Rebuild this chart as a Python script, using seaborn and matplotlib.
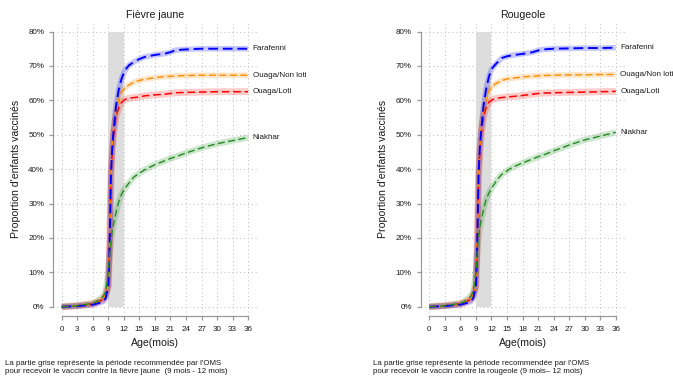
import matplotlib
matplotlib.use("Agg")
import matplotlib.pyplot as plt
import numpy as np
import pandas as pd
import seaborn as sns

# Age in months at which the cumulative coverage is tabulated
ages = [0, 3, 6, 7, 8, 8.5, 9, 9.25, 9.5, 9.75, 10, 10.5, 11, 11.5, 12, 12.5,
        13, 14, 15, 16, 18, 20, 21, 22, 24, 27, 30, 33, 36]

sites = ["Farafenni", "Ouaga/Non loti", "Ouaga/Loti", "Niakhar"]

# Cumulative coverage (%) - yellow fever
fj_farafenni = [0, 0.2, 0.6, 1.0, 1.5, 2.5, 6, 18, 38, 46, 51, 58.5, 63, 66, 68, 69.3,
                70.2, 71.2, 72.0, 72.6, 73.2, 73.6, 74.0, 74.6, 74.8, 75.0, 75.0, 75.0, 75.0]
fj_nonloti = [0, 0.3, 0.8, 1.4, 2.2, 3.5, 6, 18, 38, 46, 52, 57, 60.2, 62.3, 63.3, 64,
              64.5, 65.3, 65.8, 66.1, 66.6, 66.9, 67.0, 67.1, 67.2, 67.3, 67.3, 67.3, 67.3]
fj_loti = [0, 0.3, 0.8, 1.4, 2.2, 3.5, 6, 18, 38, 45, 50, 55.5, 57.8, 59.3, 60, 60.4,
           60.6, 60.8, 61.0, 61.3, 61.6, 61.8, 62.0, 62.2, 62.3, 62.4, 62.5, 62.5, 62.5]
fj_niakhar = [0, 0.3, 1.0, 1.8, 3.0, 4.5, 10, 15, 19, 22, 24, 27.5, 30.5, 32.5, 34, 35,
              36, 37.8, 38.8, 39.8, 41.3, 42.5, 43.1, 43.6, 44.7, 46.2, 47.4, 48.3, 49.2]

# Cumulative coverage (%) - measles
rg_farafenni = [0, 0.2, 0.6, 1.0, 1.5, 2.5, 6, 18, 38, 46, 51, 58.8, 63.5, 66.8, 69, 70,
                70.8, 72.3, 72.8, 73.1, 73.5, 74.0, 74.5, 74.8, 75.0, 75.1, 75.2, 75.2, 75.3]
rg_nonloti = [0, 0.3, 0.8, 1.4, 2.2, 3.5, 6, 18, 38, 46, 52, 57, 60.5, 62.8, 63.8, 64.5,
              65, 65.8, 66.2, 66.4, 66.8, 67.0, 67.1, 67.2, 67.3, 67.4, 67.4, 67.5, 67.5]
rg_loti = [0, 0.3, 0.8, 1.4, 2.2, 3.5, 6, 18, 38, 45, 50, 55.5, 58, 59.5, 60, 60.4,
           60.6, 60.8, 61.0, 61.1, 61.4, 61.8, 62.0, 62.1, 62.2, 62.3, 62.4, 62.5, 62.6]
rg_niakhar = [0, 0.3, 1.0, 1.8, 3.0, 4.5, 10, 16, 20.3, 23, 25, 28.5, 31.3, 33, 34.5, 35.5,
              36.8, 38.5, 39.5, 40.5, 41.8, 43.0, 43.6, 44.1, 45.3, 47.0, 48.5, 49.6, 50.7]

panels = [
    ("Fièvre jaune", [fj_farafenni, fj_nonloti, fj_loti, fj_niakhar],
     ["La partie grise représente la période recommendée par l'OMS",
      "pour recevoir le vaccin contre la fièvre jaune  (9 mois - 12 mois)"]),
    ("Rougeole", [rg_farafenni, rg_nonloti, rg_loti, rg_niakhar],
     ["La partie grise représente la période recommendée par l'OMS",
      "pour recevoir le vaccin contre la rougeole (9 mois\u2013 12 mois)"]),
]

x_ticks = list(range(0, 37, 3))
y_ticks = list(range(0, 81, 10))
y_labels = [f"{v}%" for v in y_ticks]

colors = {"Farafenni": "#0000ff", "Ouaga/Non loti": "#ff8c00",
          "Ouaga/Loti": "#ff0000", "Niakhar": "#228b22"}
halo_w = {"Farafenni": 4.0, "Ouaga/Non loti": 4.0, "Ouaga/Loti": 5.0, "Niakhar": 4.5}
halo_a = {"Farafenni": 0.22, "Ouaga/Non loti": 0.22, "Ouaga/Loti": 0.2, "Niakhar": 0.22}
line_w = {"Farafenni": 1.4, "Ouaga/Non loti": 1.0, "Ouaga/Loti": 1.1, "Niakhar": 1.0}
halo_order = ["Niakhar", "Ouaga/Loti", "Ouaga/Non loti", "Farafenni"]
line_order = ["Ouaga/Loti", "Ouaga/Non loti", "Farafenni", "Niakhar"]

sns.set_style("white")
plt.rcParams["font.family"] = ["Liberation Sans", "DejaVu Sans"]

W, H = 673, 377
fig = plt.figure(figsize=(W / 100, H / 100), dpi=100)

axis_col = "#9a9a9a"
text_col = "#1a1a1a"
ax_left_px = [53.3, 420.9]
ax_w_px = 203.7
ax_top_px, ax_bot_px = 21.2, 315.7

for (title, series, caption), lpx in zip(panels, ax_left_px):
    ax = fig.add_axes([lpx / W, 1 - ax_bot_px / H, ax_w_px / W, (ax_bot_px - ax_top_px) / H])
    df = pd.DataFrame({"age": np.tile(ages, len(sites)),
                       "pct": np.concatenate(series),
                       "site": np.repeat(sites, len(ages))})

    ax.set_axisbelow(True)
    ax.fill_between([9, 12], 0, 80, color="#dddddd", lw=0, zorder=1)

    for s in halo_order:
        sub = df[df["site"] == s]
        sns.lineplot(data=sub, x="age", y="pct", color=colors[s], lw=halo_w[s],
                     alpha=halo_a[s], errorbar=None, ax=ax, zorder=2,
                     solid_capstyle="butt", solid_joinstyle="round")
    for s in line_order:
        sub = df[df["site"] == s]
        sns.lineplot(data=sub, x="age", y="pct", color=colors[s], lw=line_w[s],
                     linestyle=(0, (5, 2.5)), errorbar=None, ax=ax, zorder=3)
        ax.text(36.9, sub["pct"].iloc[-1], s, ha="left", va="center",
                fontsize=5.8, color=text_col, clip_on=False)

    ax.set_xlim(-1.62, 37.7)
    ax.set_ylim(-2.6, 83.0)
    ax.set_xticks(x_ticks)
    ax.set_xticklabels([str(v) for v in x_ticks])
    ax.set_yticks(y_ticks)
    ax.set_yticklabels(y_labels)
    ax.grid(True, linestyle=(0, (1, 3)), color="#bdbdbd", lw=0.7)
    for side in ["top", "right"]:
        ax.spines[side].set_visible(False)
    ax.spines["left"].set_bounds(0, 80)
    ax.spines["bottom"].set_bounds(0, 36)
    for side in ["left", "bottom"]:
        ax.spines[side].set_color(axis_col)
        ax.spines[side].set_linewidth(0.9)
    ax.tick_params(axis="x", length=3, width=0.9, color=axis_col, pad=4.5,
                   labelsize=5.8, labelcolor=text_col, bottom=True, direction="out")
    ax.tick_params(axis="y", length=3, width=0.9, color=axis_col, pad=3.5,
                   labelsize=5.8, labelcolor=text_col, left=True, direction="out")
    ax.set_xlabel("")
    ax.set_ylabel("")

    # titles and axis titles
    cx = (lpx + (61.7 - 53.3) + 93.3) / W
    fig.text(cx, 1 - 15 / H, title, ha="center", va="center", fontsize=7.6, color=text_col)
    fig.text(cx, 1 - 343 / H, "Age(mois)", ha="center", va="center", fontsize=7.6, color=text_col)
    fig.text((lpx - 37.5) / W, 1 - 168.5 / H, "Proportion d'enfants vaccinés", rotation=90,
             ha="center", va="center", fontsize=7.6, color=text_col)
    for i, line in enumerate(caption):
        fig.text((lpx - 48) / W, 1 - (363.3 + 8.4 * i) / H, line, ha="left", va="center",
                 fontsize=5.7, color=text_col)

fig.savefig("out.png", dpi=100, facecolor="white")
